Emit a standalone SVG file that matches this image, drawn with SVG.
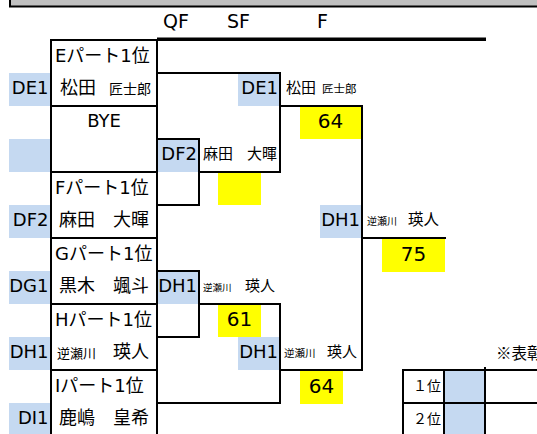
<svg xmlns="http://www.w3.org/2000/svg" width="537" height="434" viewBox="0 0 537 434">
<style>
.ln{stroke:#000;stroke-width:2;fill:none;stroke-linecap:square}
.blue{fill:#C5D9F1}
.yel{fill:#FFFF00}
text{font-family:"DejaVu Sans","Noto Sans CJK JP",sans-serif;fill:#000}
.lg{font-size:18px}
.hd{font-size:19px}
.md{font-size:15px}
.sc{font-size:20px;text-anchor:middle}
.lb{font-size:18px;text-anchor:end}
.sm14{font-size:14px}
.sm13{font-size:13px}
.sm10{font-size:10px}
.tb{font-size:14px}
.note{font-family:"Noto Sans CJK JP",sans-serif;font-size:15.5px}
</style>
<rect width="537" height="434" fill="#fff"/>
<g id="header">
<rect x="10" y="0" width="527" height="6" fill="#C0C0C0"/>
<path class="ln" d="M10,6.5H537M10,0V6"/>
<text class="hd" x="163" y="28">QF</text>
<text class="hd" x="227" y="28">SF</text>
<text class="hd" x="317" y="28">F</text>
<rect x="157" y="37.5" width="329" height="3.5" fill="#000"/>
</g>
<g id="fills">
<rect class="blue" x="9" y="73" width="42" height="33"/>
<rect class="blue" x="9" y="139" width="42" height="33"/>
<rect class="blue" x="9" y="205" width="42" height="33"/>
<rect class="blue" x="9" y="271" width="42" height="33"/>
<rect class="blue" x="9" y="337" width="42" height="33"/>
<rect class="blue" x="9" y="403" width="42" height="31"/>
</g>
<g id="node-E">
<text class="lg" x="55" y="62">Eパート1位</text>
<text class="lb" x="48.5" y="94">DE1</text>
<text x="60" y="94"><tspan class="lg">松田</tspan><tspan class="sm14" x="109">匠士郎</tspan></text>
</g>
<g id="node-BYE">
<text class="lg" x="104" y="127" text-anchor="middle">BYE</text>
</g>
<g id="node-F">
<text class="lg" x="55" y="194">Fパート1位</text>
<text class="lb" x="48.5" y="226">DF2</text>
<text class="lg" x="59" y="226">麻田　大暉</text>
</g>
<g id="node-G">
<text class="lg" x="55" y="260">Gパート1位</text>
<text class="lb" x="48.5" y="292">DG1</text>
<text class="lg" x="59" y="292">黒木　颯斗</text>
</g>
<g id="node-H">
<text class="lg" x="55" y="326">Hパート1位</text>
<text class="lb" x="48.5" y="358">DH1</text>
<text x="57" y="358"><tspan class="sm13">逆瀬川</tspan><tspan class="lg" x="113">瑛人</tspan></text>
</g>
<g id="node-I">
<text class="lg" x="55" y="392">Iパート1位</text>
<text class="lb" x="48.5" y="424">DI1</text>
<text class="lg" x="59" y="424">鹿嶋　皇希</text>
</g>
<g id="node-qf-DF2">
<rect class="blue" x="157" y="139" width="42" height="33"/>
<text class="lb" x="197" y="160">DF2</text>
<text class="md" x="203" y="159">麻田<tspan x="247">大暉</tspan></text>
</g>
<g id="node-qf-DH1">
<rect class="blue" x="157" y="271" width="42" height="33"/>
<text class="lb" x="197" y="292">DH1</text>
<text x="203" y="291"><tspan style="font-size:9.5px">逆瀬川</tspan><tspan class="md" x="245">瑛人</tspan></text>
</g>
<g id="node-sf-DE1">
<rect class="blue" x="238" y="73" width="42" height="33"/>
<text class="lb" x="278" y="94">DE1</text>
<text x="286" y="93"><tspan class="md">松田</tspan><tspan style="font-size:11.5px" x="322">匠士郎</tspan></text>
</g>
<g id="node-sf-blank">
<rect class="yel" x="218" y="172" width="43" height="33"/>
</g>
<g id="node-sf-61">
<rect class="yel" x="218" y="304" width="43" height="33"/>
<text class="sc" x="239.5" y="326">61</text>
</g>
<g id="node-sf-DH1">
<rect class="blue" x="238" y="337" width="42" height="33"/>
<text class="lb" x="278" y="358">DH1</text>
<text x="284" y="357"><tspan style="font-size:10.5px">逆瀬川</tspan><tspan class="md" x="327">瑛人</tspan></text>
</g>
<g id="node-f-64a">
<rect class="yel" x="300" y="106" width="61" height="33"/>
<text class="sc" x="330.5" y="128">64</text>
</g>
<g id="node-f-64b">
<rect class="yel" x="300" y="371" width="43" height="33"/>
<text class="sc" x="321.5" y="393">64</text>
</g>
<g id="node-f-DH1">
<rect class="blue" x="320" y="205" width="42" height="33"/>
<text class="lb" x="360" y="226">DH1</text>
<text x="367" y="225"><tspan class="sm10">逆瀬川</tspan><tspan style="font-size:15.5px" x="408">瑛人</tspan></text>
</g>
<g id="node-winner-75">
<rect class="yel" x="382" y="238" width="63" height="34"/>
<text class="sc" x="413.5" y="261">75</text>
</g>
<g id="node-table">
<text class="note" x="496" y="359">※表彰</text>
<rect class="blue" x="444" y="370" width="41" height="64"/>
<text class="tb" x="413" y="391">１位</text>
<text class="tb" x="413" y="424">２位</text>
<path class="ln" d="M403,370H537M403,403H537M403,370V434M444,370V434M485,368V434"/>
</g>
<g id="connectors">
<path class="ln" d="M51,40H157M51,40V434M157,40V434M51,106H157M51,172H157M51,238H157M51,304H157M51,370H157"/>
<path class="ln" d="M157,73H280V172H199M157,139H199V205H157"/>
<path class="ln" d="M280,106H362V370H280M362,238H445"/>
<path class="ln" d="M157,271H199V337H157M199,304H280V403H157"/>
</g>
</svg>
